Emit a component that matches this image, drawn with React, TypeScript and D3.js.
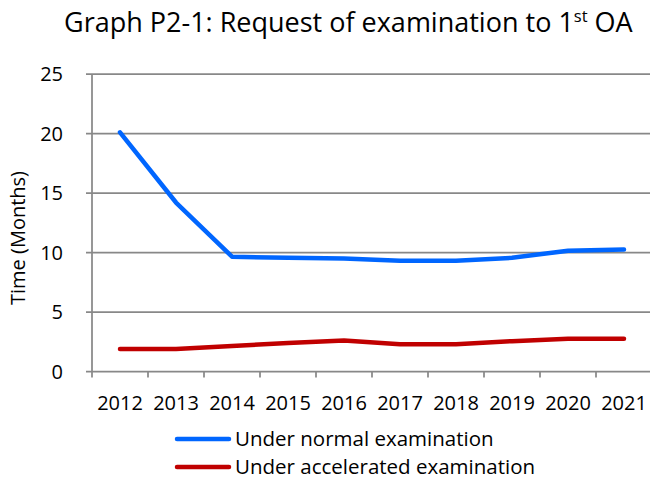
import React from "react";
import * as d3 from "d3";

const years = ["2012", "2013", "2014", "2015", "2016", "2017", "2018", "2019", "2020", "2021"];
const normalExam = [20.1, 14.2, 9.65, 9.55, 9.5, 9.3, 9.3, 9.55, 10.15, 10.25];
const acceleratedExam = [1.9, 1.9, 2.15, 2.4, 2.6, 2.3, 2.3, 2.55, 2.75, 2.75];
const yTicks = [0, 5, 10, 15, 20, 25];
const seriesNames = ["Under normal examination", "Under accelerated examination"];
const seriesColors = ["#0066FF", "#C00000"];

const W = 650;
const H = 479;
const FONT = "'Open Sans', 'Noto Sans', sans-serif";

export default function App() {
  const left = 92;
  const bandRight = 652;
  const top = 74;
  const bottom = 371.5;

  const x = d3.scaleBand<string>().domain(years).range([left, bandRight]).paddingInner(0).paddingOuter(0);
  const y = d3.scaleLinear().domain([0, 25]).range([bottom, top]);
  const cx = (yr: string) => (x(yr) as number) + x.bandwidth() / 2;

  const line = d3
    .line<number>()
    .x((_, i) => cx(years[i]))
    .y((d) => y(d));

  const series = [normalExam, acceleratedExam];
  const grid = "#888888";

  return (
    <svg width={W} height={H} style={{ position: "absolute", left: 0, top: 0, background: "#fff" }}>
      <text x={64} y={32} fontFamily={FONT} fontSize={27} fill="#000">
        Graph P2-1: Request of examination to 1
        <tspan fontSize={16.5} dy={-10}>st</tspan>
        <tspan dy={10}> OA</tspan>
      </text>

      {yTicks.map((t) => (
        <g key={t}>
          <line x1={left - 6} x2={W} y1={y(t)} y2={y(t)} stroke={grid} strokeWidth={1.75} />
          <text x={63} y={y(t) + 7} textAnchor="end" fontFamily={FONT} fontSize={20} fill="#000">
            {t}
          </text>
        </g>
      ))}

      <line x1={left} x2={left} y1={top} y2={bottom + 6} stroke={grid} strokeWidth={1.75} />
      {years.map((yr) => (
        <line
          key={yr}
          x1={(x(yr) as number) + x.bandwidth()}
          x2={(x(yr) as number) + x.bandwidth()}
          y1={bottom}
          y2={bottom + 6}
          stroke={grid}
          strokeWidth={1.75}
        />
      ))}

      {years.map((yr) => (
        <text key={yr} x={cx(yr)} y={410} textAnchor="middle" fontFamily={FONT} fontSize={20} fill="#000">
          {yr}
        </text>
      ))}

      <text
        transform={`translate(25, 238) rotate(-90)`}
        textAnchor="middle"
        fontFamily={FONT}
        fontSize={20}
        fill="#000"
      >
        Time (Months)
      </text>

      {series.map((s, i) => (
        <path
          key={i}
          d={line(s) as string}
          fill="none"
          stroke={seriesColors[i]}
          strokeWidth={4.5}
          strokeLinejoin="round"
          strokeLinecap="round"
        />
      ))}

      {seriesNames.map((name, i) => (
        <g key={name}>
          <line
            x1={177}
            x2={229}
            y1={439 + i * 28}
            y2={439 + i * 28}
            stroke={seriesColors[i]}
            strokeWidth={4.5}
            strokeLinecap="round"
          />
          <text x={235} y={446 + i * 28} fontFamily={FONT} fontSize={20.5} fill="#000">
            {name}
          </text>
        </g>
      ))}
    </svg>
  );
}
